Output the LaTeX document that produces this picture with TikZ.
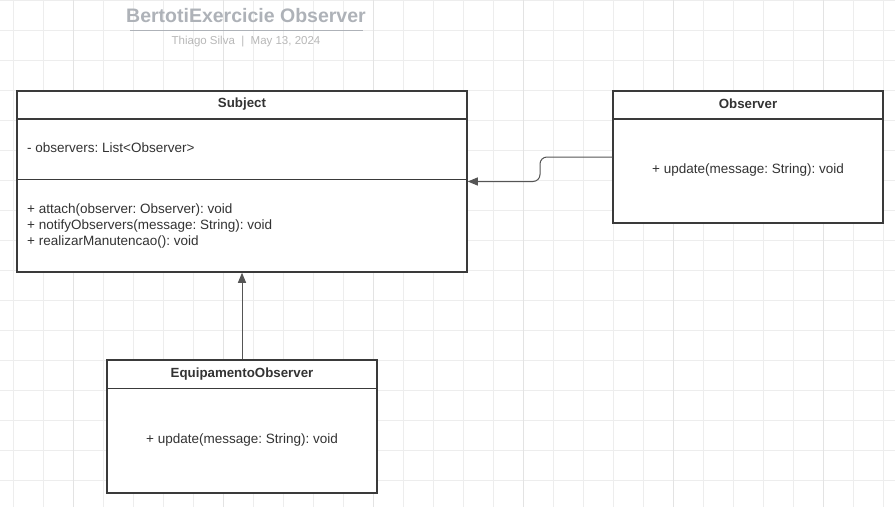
\documentclass[tikz,border=0pt]{standalone}
\usepackage{fontspec}
\setmainfont{Liberation Sans}
\usetikzlibrary{arrows.meta}
\frenchspacing
\definecolor{gridminor}{HTML}{EDEDED}
\definecolor{gridmajor}{HTML}{E3E3E3}
\definecolor{boxline}{HTML}{3A3A3A}
\definecolor{txt}{HTML}{333333}
\definecolor{titlec}{HTML}{AEB2B8}
\definecolor{subc}{HTML}{B8B8B8}
\definecolor{conn}{HTML}{555555}
\tikzset{
  umlbox/.style={draw=boxline, line width=1.5pt, fill=white, inner sep=0pt},
  divider/.style={draw=boxline, line width=1.4pt},
  hdr/.style={font=\fontsize{13.3}{15}\selectfont\bfseries, text=txt},
  body/.style={font=\fontsize{13.5}{16}\selectfont, text=txt, inner sep=0pt},
  conn/.style={draw=conn, line width=1pt, -{Triangle[length=10pt,width=8pt]}},
}
\begin{document}
\begin{tikzpicture}[x=1pt,y=-1pt]
\useasboundingbox (0,0) rectangle (895,507);
\fill[white] (0,0) rectangle (895,507);
% grid
\foreach \k in {0,...,29} {
  \pgfmathsetmacro{\gx}{13+30*\k}
  \draw[gridminor, line width=0.7pt] (\gx,0) -- (\gx,507);
}
\foreach \k in {0,...,16} {
  \pgfmathsetmacro{\gy}{30*\k}
  \draw[gridminor, line width=0.7pt] (0,\gy) -- (895,\gy);
}
\foreach \gx in {73,223,373,523,673,823} {
  \draw[gridmajor, line width=0.7pt] (\gx,0) -- (\gx,507);
}
% title
\node[font=\fontsize{19.5}{22}\selectfont\bfseries, text=titlec] (title) at (246,16) {BertotiExercicie Observer};
\draw[titlec, line width=1.6pt] (130,30.5) -- (363,30.5);
\node[font=\fontsize{11.5}{13}\selectfont, text=subc] (subtitle) at (246,42) {Thiago Silva\ \ |\ \ May 13, 2024};
% Subject
\node[umlbox, minimum width=450pt, minimum height=181pt] (subject) at (242,181.5) {};
\draw[divider] (17,119) -- (467,119);
\draw[divider] (17,179.5) -- (467,179.5);
\node[hdr] (subjectname) at (242,104) {Subject};
\node[body, anchor=west] (subjectattr) at (27,147.5) {- observers: List<Observer>};
\node[body, anchor=north west, align=left] (subjectops) at (27,203.5) {+ attach(observer: Observer): void\\+ notifyObservers(message: String): void\\+ realizarManutencao(): void};
% Observer
\node[umlbox, minimum width=270pt, minimum height=132pt] (observer) at (748,157) {};
\draw[divider] (613,119) -- (883,119);
\node[hdr] (observername) at (748,104) {Observer};
\node[body] (observerops) at (748,170) {+ update(message: String): void};
% EquipamentoObserver
\node[umlbox, minimum width=270pt, minimum height=133pt] (equip) at (242,426.5) {};
\draw[divider] (107,388.5) -- (377,388.5);
\node[hdr] (equipname) at (242,374) {EquipamentoObserver};
\node[body] (equipops) at (242,440) {+ update(message: String): void};
% connectors
\coordinate (bend) at (540,157);
\draw[conn, rounded corners=7pt] (observer.west) -- (bend) |- (subject.east);
\draw[conn] (equip.north) -- (subject.south);
\end{tikzpicture}
\end{document}
